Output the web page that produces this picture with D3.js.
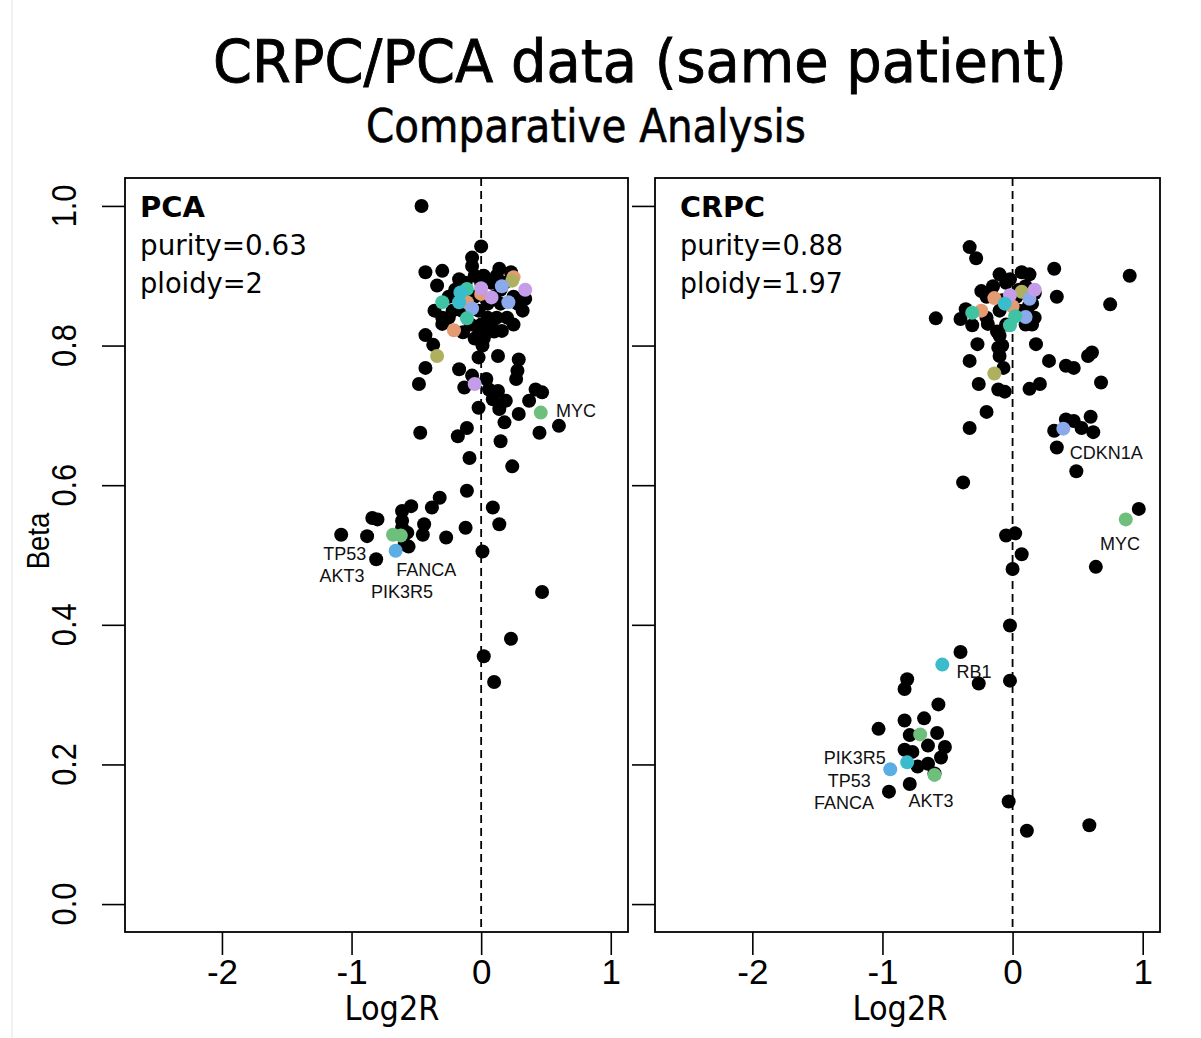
<!DOCTYPE html>
<html>
<head>
<meta charset="utf-8">
<script src="https://cdn.jsdelivr.net/npm/d3@7"></script>
<style>
  html, body { margin: 0; padding: 0; background: #fff; }
  svg { display: block; }
</style>
</head>
<body>
<svg id="chart" width="1201" height="1038"></svg>
<script>
// ---------------- DATA ----------------
const chartTitle = "CRPC/PCA data (same patient)";
const chartSubtitle = "Comparative Analysis";
const xTicks = [-2, -1, 0, 1];
const yTicks = [0.0, 0.2, 0.4, 0.6, 0.8, 1.0];
const xLabel = "Log2R";
const yLabel = "Beta";

const panelNames = ["PCA", "CRPC"];
const panelPurity = [0.63, 0.88];
const panelPloidy = ["2", "1.97"];

// PCA: black segments
const pcaLog2R = [-0.46,0.0,-0.07,-0.07,-0.43,-0.30,-0.34,-0.17,0.14,0.23,
  -0.05,0.02,0.08,0.12,0.18,-0.12,-0.2,-0.25,-0.05,0.05,0.1,0.15,0.25,0.28,-0.22,-0.15,-0.02,0.05,0.12,0.2,0.25,-0.08,0.0,-0.25,-0.3,0.05,0.1,0.02,-0.05,0.08,-0.1,0.15,0.0,
  -0.36,-0.30,-0.14,-0.43,-0.37,-0.02,0.06,0.16,0.32,0.34,0.01,-0.02,0.13,0.29,0.28,0.27,-0.43,-0.17,-0.48,-0.13,-0.07,0.04,0.06,0.13,0.42,0.47,0.37,0.09,0.19,-0.02,0.14,0.29,0.18,-0.11,-0.18,-0.47,0.45,0.60,0.15,
  -0.09,0.24,-0.11,-0.32,-0.38,-0.54,-0.61,-0.84,-0.80,-0.61,-0.61,-0.44,-0.45,-0.57,-0.12,0.09,0.14,-0.27,-1.08,-0.88,-0.56,-0.59,-0.81,0.01,0.47,0.23,0.02,0.10];
const pcaBeta = [1.00,0.942,0.926,0.914,0.905,0.907,0.886,0.895,0.910,0.905,
  0.90,0.90,0.89,0.90,0.89,0.89,0.88,0.87,0.87,0.86,0.87,0.86,0.87,0.86,0.85,0.85,0.85,0.84,0.84,0.84,0.83,0.83,0.83,0.84,0.84,0.82,0.82,0.81,0.81,0.83,0.86,0.88,0.89,
  0.850,0.831,0.819,0.815,0.801,0.824,0.835,0.821,0.850,0.867,0.800,0.783,0.785,0.780,0.764,0.752,0.768,0.766,0.745,0.740,0.757,0.752,0.737,0.735,0.737,0.733,0.721,0.723,0.721,0.711,0.709,0.702,0.690,0.682,0.670,0.675,0.675,0.685,0.663,
  0.639,0.627,0.592,0.582,0.568,0.570,0.563,0.553,0.551,0.549,0.539,0.544,0.529,0.532,0.539,0.568,0.544,0.525,0.529,0.527,0.512,0.515,0.494,0.505,0.447,0.380,0.355,0.318];

// PCA: highlighted (coloured) segments, grouped by colour class
const pcaHiLog2R = [0.25,0.0,-0.11,-0.21, 0.24,-0.34, 0.16,0.21,-0.07, 0.34,0.0,0.08,-0.05, -0.11,-0.30,-0.11, -0.16,-0.17, 0.46,-0.68,-0.62, -0.66];
const pcaHiBeta  = [0.898,0.874,0.862,0.822, 0.893,0.785, 0.885,0.862,0.853, 0.880,0.882,0.869,0.745, 0.881,0.862,0.839, 0.876,0.862, 0.704,0.529,0.528, 0.506];
const pcaHiGroup = ["A","A","A","A", "B","B", "C","C","C", "D","D","D","D", "E","E","E", "F","F", "G","G","G", "H"];

// CRPC: black segments
const crpcLog2R = [-0.33,-0.28,0.32,0.90,0.34,0.75,-0.59,0.07,0.13,-0.10,-0.02,-0.24,
  -0.05,0.05,0.1,-0.15,-0.2,0.15,0.05,-0.1,-0.05,0.1,-0.2,0.15,-0.12,-0.08,0.12,-0.08,0.03,0.17,
  -0.36,-0.40,-0.31,-0.19,0.17,-0.10,-0.27,-0.11,0.18,-0.10,-0.33,0.28,0.41,0.47,0.58,0.61,-0.07,-0.26,-0.11,-0.06,0.13,0.21,0.68,-0.20,-0.33,0.60,0.32,0.47,0.53,0.62,0.41,0.34,0.49,-0.38,0.97,
  -0.05,0.02,0.07,0.0,0.64,-0.02,-0.40,-0.26,-0.02,-0.57,-0.81,-0.83,-1.03,-0.83,-0.68,-0.79,-0.58,-0.83,-0.77,-0.65,-0.52,-0.55,-0.73,-0.65,-0.60,-0.79,-0.95,-0.03,0.11,0.59];
const crpcBeta = [0.941,0.925,0.910,0.900,0.870,0.859,0.839,0.905,0.902,0.902,0.895,0.878,
  0.89,0.88,0.885,0.885,0.87,0.86,0.85,0.85,0.83,0.83,0.84,0.83,0.82,0.80,0.855,0.865,0.87,0.875,
  0.852,0.838,0.829,0.831,0.840,0.814,0.802,0.797,0.802,0.785,0.778,0.778,0.771,0.768,0.785,0.790,0.768,0.745,0.737,0.734,0.738,0.745,0.747,0.705,0.682,0.698,0.678,0.692,0.682,0.676,0.694,0.654,0.620,0.604,0.566,
  0.528,0.531,0.501,0.480,0.483,0.399,0.361,0.316,0.320,0.286,0.322,0.308,0.251,0.263,0.266,0.242,0.245,0.221,0.218,0.227,0.225,0.210,0.197,0.201,0.187,0.172,0.161,0.147,0.105,0.113];

// CRPC: highlighted segments
const crpcHiLog2R = [-0.14,0.0,-0.24, 0.07,-0.14, 0.13,0.10,0.39, 0.17,-0.02, -0.31,0.02,-0.02, -0.06,-0.54,-0.81, 0.87,-0.71,-0.60, -0.94];
const crpcHiBeta  = [0.868,0.856,0.850, 0.877,0.760, 0.867,0.841,0.681, 0.880,0.872, 0.847,0.842,0.829, 0.860,0.343,0.203, 0.551,0.243,0.185, 0.193];
const crpcHiGroup = ["A","A","A", "B","B", "C","C","C", "D","D", "E","E","E", "F","F","F", "G","G","G", "H"];

// Gene labels (text, anchor position in data units, alignment)
const pcaGenes   = ["MYC","TP53","AKT3","FANCA","PIK3R5"];
const pcaGeneX   = [0.578,-0.887,-0.90,-0.656,-0.85];
const pcaGeneY   = [0.707,0.502,0.471,0.479,0.448];
const pcaGeneAl  = ["start","end","end","start","start"];
const crpcGenes  = ["CDKN1A","MYC","RB1","PIK3R5","TP53","FANCA","AKT3"];
const crpcGeneX  = [0.44,0.825,-0.43,-0.974,-1.09,-1.064,-0.80];
const crpcGeneY  = [0.647,0.516,0.333,0.209,0.177,0.145,0.148];
const crpcGeneAl = ["start","middle","start","end","end","end","start"];

// ---------------- STYLE / LAYOUT ----------------
const groupColor = d3.scaleOrdinal()
  .domain(["A","B","C","D","E","F","G","H"])
  .range(["#e49b72","#aeb05e","#8ca9eb","#c49ce8","#3fc3a3","#3bbccd","#6fbf7c","#5aaee3"]);

const svg = d3.select("#chart");
const W = 1201, H = 1038;
const plotTop = 178, plotBottom = 932;
const panels = [
  {left: 125, right: 628, name: 0, xs: pcaLog2R, ys: pcaBeta, hx: pcaHiLog2R, hy: pcaHiBeta, hg: pcaHiGroup,
   gn: pcaGenes, gx: pcaGeneX, gy: pcaGeneY, ga: pcaGeneAl, xlabC: 392, textX: 140, showY: true},
  {left: 655, right: 1160, name: 1, xs: crpcLog2R, ys: crpcBeta, hx: crpcHiLog2R, hy: crpcHiBeta, hg: crpcHiGroup,
   gn: crpcGenes, gx: crpcGeneX, gy: crpcGeneY, ga: crpcGeneAl, xlabC: 900, textX: 680, showY: false}
];

svg.append("rect").attr("width", W).attr("height", H).attr("fill", "#fff");
svg.append("line").attr("x1", 12).attr("x2", 12).attr("y1", 0).attr("y2", H)
  .attr("stroke", "#ececec").attr("stroke-width", 1.5);

function fitX(sel, target) {
  const w = sel.node().getComputedTextLength();
  const s = target / w;
  const x = +sel.attr("x"), y = +sel.attr("y");
  sel.attr("transform", `translate(${x},${y}) scale(${s},1) translate(${-x},${-y})`);
}

const sansT = "'DejaVu Sans', Verdana, sans-serif";
const sansA = "'Liberation Sans', Arial, Helvetica, sans-serif";

// Titles
const t1 = svg.append("text").attr("x", 640).attr("y", 82).attr("text-anchor", "middle")
  .attr("font-family", sansT).attr("font-size", 58).attr("fill", "#000")
  .attr("stroke", "#000").attr("stroke-width", 0.9).text(chartTitle);
fitX(t1, 854);
const t2 = svg.append("text").attr("x", 586).attr("y", 142).attr("text-anchor", "middle")
  .attr("font-family", sansT).attr("font-size", 46).attr("fill", "#000")
  .attr("stroke", "#000").attr("stroke-width", 0.6).text(chartSubtitle);
fitX(t2, 440);

const y = d3.scaleLinear().domain([-0.04, 1.04]).range([plotBottom, plotTop]);

panels.forEach(p => {
  const x = d3.scaleLinear().domain([-2.748, 1.133]).range([p.left, p.right]);
  const g = svg.append("g");

  // y axis ticks
  const ya = g.append("g").attr("transform", `translate(${p.left},0)`)
    .call(d3.axisLeft(y).tickValues(yTicks).tickSize(23).tickFormat(d3.format(".1f")));
  ya.select(".domain").remove();
  ya.selectAll(".tick line").attr("stroke", "#000").attr("stroke-width", 1.6);
  ya.selectAll(".tick text").remove();
  if (p.showY) {
    yTicks.forEach(v => {
      g.append("text")
        .attr("transform", `translate(76,${y(v)}) rotate(-90) scale(0.88,1)`)
        .attr("text-anchor", "middle").attr("font-family", sansA).attr("font-size", 35)
        .attr("fill", "#000").text(d3.format(".1f")(v));
    });
    g.append("text")
      .attr("transform", `translate(49,541) rotate(-90) scale(0.86,1)`)
      .attr("text-anchor", "middle").attr("font-family", sansA).attr("font-size", 32)
      .attr("fill", "#000").text(yLabel);
  }

  // x axis
  const xa = g.append("g").attr("transform", `translate(0,${plotBottom})`)
    .call(d3.axisBottom(x).tickValues(xTicks).tickSize(23).tickFormat(d3.format("d")));
  xa.select(".domain").remove();
  xa.selectAll(".tick line").attr("stroke", "#000").attr("stroke-width", 1.6);
  xa.selectAll(".tick text").attr("font-family", sansA).attr("font-size", 35)
    .attr("fill", "#000").attr("y", 27).attr("dy", "0.71em").text(d => String(d));

  const xl = g.append("text").attr("x", p.xlabC).attr("y", 1020).attr("text-anchor", "middle")
    .attr("font-family", sansT).attr("font-size", 34).attr("fill", "#000").text(xLabel);
  fitX(xl, 95);

  // dashed zero line
  g.append("line").attr("x1", x(0)).attr("x2", x(0)).attr("y1", plotTop).attr("y2", plotBottom)
    .attr("stroke", "#000").attr("stroke-width", 1.8).attr("stroke-dasharray", "8,5");

  // black points
  const pts = p.xs.map((v, i) => [v, p.ys[i]]);
  g.append("g").selectAll("circle").data(pts).join("circle")
    .attr("cx", d => x(d[0])).attr("cy", d => y(d[1])).attr("r", 7).attr("fill", "#000");

  // coloured points
  const hpts = p.hx.map((v, i) => [v, p.hy[i], p.hg[i]]);
  g.append("g").selectAll("circle").data(hpts).join("circle")
    .attr("cx", d => x(d[0])).attr("cy", d => y(d[1])).attr("r", 7).attr("fill", d => groupColor(d[2]));

  // gene labels
  p.gn.forEach((name, i) => {
    g.append("text").attr("x", x(p.gx[i])).attr("y", y(p.gy[i])).attr("dy", "0.35em")
      .attr("text-anchor", p.ga[i]).attr("font-family", sansA).attr("font-size", 18)
      .attr("fill", "#111").text(name);
  });

  // box
  g.append("rect").attr("x", p.left).attr("y", plotTop).attr("width", p.right - p.left).attr("height", plotBottom - plotTop)
    .attr("fill", "none").attr("stroke", "#000").attr("stroke-width", 1.8);

  // panel annotations
  const tx = p.textX;
  const a1 = g.append("text").attr("x", tx).attr("y", 217).attr("font-family", sansT).attr("font-weight", "bold")
    .attr("font-size", 29).attr("fill", "#000").text(panelNames[p.name]);
  fitX(a1, p.name === 0 ? 65 : 85);
  const a2 = g.append("text").attr("x", tx).attr("y", 255).attr("font-family", sansT)
    .attr("font-size", 29).attr("fill", "#000").text("purity=" + panelPurity[p.name].toFixed(2));
  fitX(a2, p.name === 0 ? 167 : 163);
  const a3 = g.append("text").attr("x", tx).attr("y", 293).attr("font-family", sansT)
    .attr("font-size", 29).attr("fill", "#000").text("ploidy=" + panelPloidy[p.name]);
  fitX(a3, p.name === 0 ? 123 : 163);
});
</script>
</body>
</html>
